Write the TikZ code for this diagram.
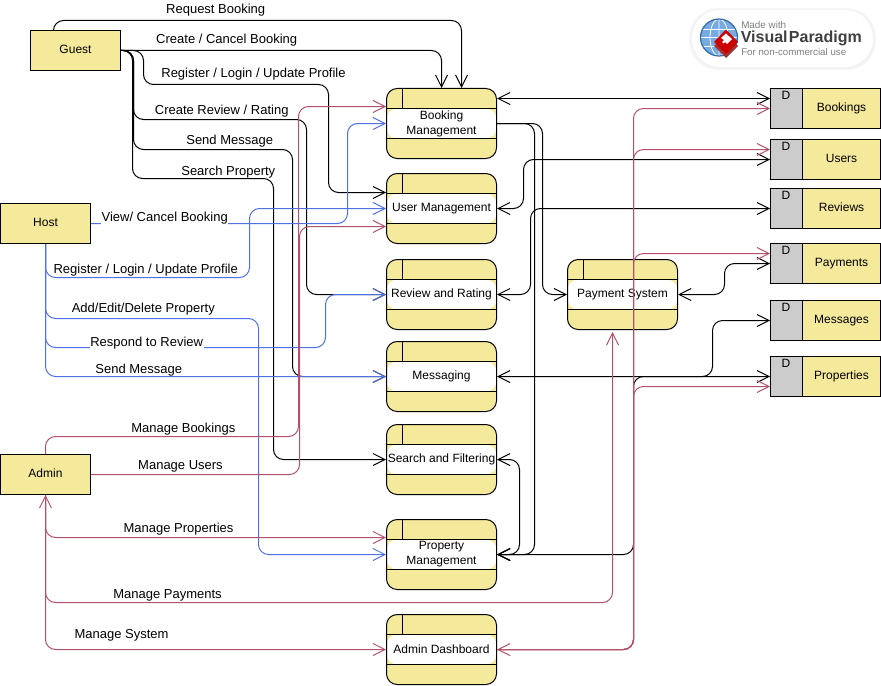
\documentclass[tikz,border=0pt]{standalone}
\usepackage{fontspec}
\setmainfont{Liberation Sans}
\usetikzlibrary{arrows.meta,calc}
\definecolor{paleyellow}{HTML}{F5E99B}
\definecolor{storegray}{HTML}{CCCCCC}
\definecolor{hostblue}{HTML}{4F71E6}
\definecolor{adminred}{HTML}{B5506C}
\tikzset{
  base/.style={font=\fontsize{9}{11.25}\selectfont, inner sep=0pt},
  entity/.style={base, draw=black, line width=.75pt, fill=paleyellow, minimum width=67.5pt, minimum height=30pt, text height=7pt, text depth=2pt},
  process/.style={base, align=center, draw=black, line width=.75pt, fill=paleyellow, rounded corners=8pt,
    minimum width=82.5pt, minimum height=52.5pt,
    path picture={
      \fill[white] ([yshift=-15pt]path picture bounding box.north west) rectangle ([yshift=-37.5pt]path picture bounding box.north east);
      \draw[line width=.75pt] ([yshift=-15pt]path picture bounding box.north west) -- ([yshift=-15pt]path picture bounding box.north east);
      \draw[line width=.75pt] ([yshift=-37.5pt]path picture bounding box.north west) -- ([yshift=-37.5pt]path picture bounding box.north east);
      \draw[line width=.75pt] ([xshift=12pt]path picture bounding box.north west) -- ([xshift=12pt,yshift=-15pt]path picture bounding box.north west);
    }},
  store/.style={base, draw=black, line width=.75pt, fill=paleyellow,
    minimum width=82.5pt, minimum height=30pt, text height=7pt, text depth=2pt,
    path picture={
      \fill[storegray] (path picture bounding box.north west) rectangle ([xshift=24pt]path picture bounding box.south west);
      \draw[line width=.75pt] ([xshift=24pt]path picture bounding box.north west) -- ([xshift=24pt]path picture bounding box.south west);
    }},
  dmark/.style={base, anchor=center, xshift=12pt, yshift=-5.5pt},
  lbl/.style={font=\fontsize{9.75}{11.5}\selectfont, inner sep=0pt, text height=7pt, text depth=2pt, yshift=-1.5pt},
  lblgap/.style={font=\fontsize{9.75}{11.5}\selectfont, inner ysep=0pt, inner xsep=.5pt, fill=white, text height=10.5pt, text depth=2.5pt},
  wm/.style={inner sep=0pt, anchor=west},
  tipend/.style={-{Straight Barb[length=9pt,width=9pt,line width=.75pt]}},
  tipboth/.style={{Straight Barb[length=9pt,width=9pt,line width=.75pt]}-{Straight Barb[length=9pt,width=9pt,line width=.75pt]}},
  flowk/.style={draw=black, line width=.75pt, rounded corners=7.5pt},
  flowb/.style={draw=hostblue, line width=.75pt, rounded corners=7.5pt},
  flowr/.style={draw=adminred, line width=.75pt, rounded corners=7.5pt},
}
\begin{document}
\begin{tikzpicture}[x=.75pt,y=-.75pt]
\useasboundingbox (0,0) rectangle (881,685);
\fill[white] (0,0) rectangle (881,685);

% watermark
\fill[black!3, rounded corners=22pt] (689,8) rectangle (876,70);
\fill[black!5, rounded corners=21.5pt] (690.5,9) rectangle (874.5,69);
\fill[white, rounded corners=21pt] (692,10) rectangle (873,67);
\fill[cyan!60!blue!55] (719,37.5) circle[radius=18.5];
\draw[white,line width=.6pt] (700.5,37.5) -- (737.5,37.5) (702.5,29) -- (735.5,29) (702.5,46) -- (735.5,46);
\draw[white,line width=.6pt] (719,19) -- (719,56) (719,37.5) ellipse[x radius=9,y radius=18.5];
\draw[black!30!cyan!60!blue,line width=.9pt] (719,37.5) circle[radius=18.5];
\fill[red!55!black!80] (714,46) -- (726,34) -- (738,46) -- (726,58) -- cycle;
\fill[red!80!black] (714,42) -- (726,29.5) -- (738,42) -- (726,54) -- cycle;
\fill[white] (721,38) -- (726,33.5) -- (732,39) -- (727,44) -- (725,42) -- (723.5,43.5) -- (722,42) -- (724,40) -- cycle;
\node[wm, font=\fontsize{7.4}{9}\selectfont, text=black!50] (wmA) at (741,25) {Made with};
\node[wm, font=\fontsize{12}{14}\bfseries\selectfont, text=black!75] (wmB) at (740.5,38.5) {Visual\hspace{1pt}Paradigm};
\node[wm, font=\fontsize{7.3}{9}\selectfont, text=black!50] (wmC) at (741,52) {For non-commercial use};

% external entities
\node[entity] (guest) at (75.5,50.5) {Guest};
\node[entity] (host) at (45.5,223.5) {Host};
\node[entity] (admin) at (45.5,474.5) {Admin};

% processes
\node[process] (booking) at (441.5,123.5) {Booking\\Management};
\node[process] (user) at (441.5,208.5) {User Management};
\node[process] (review) at (441.5,294.5) {Review and Rating};
\node[process] (messaging) at (441.5,376.5) {Messaging};
\node[process] (search) at (441.5,459.5) {Search and Filtering};
\node[process] (property) at (441.5,554.5) {Property\\Management};
\node[process] (dashboard) at (441.5,649.5) {Admin Dashboard};
\node[process] (payment) at (622.5,294.5) {Payment System};

% data stores
\node[store] (bookings) at (825.5,108.5) {\hspace*{24pt}Bookings};
\node[store] (users) at (825.5,159.5) {\hspace*{24pt}Users};
\node[store] (reviews) at (825.5,208.5) {\hspace*{24pt}Reviews};
\node[store] (payments) at (825.5,263.5) {\hspace*{24pt}Payments};
\node[store] (messages) at (825.5,320.5) {\hspace*{24pt}Messages};
\node[store] (properties) at (825.5,376.5) {\hspace*{24pt}Properties};
\node[dmark] (dA) at (bookings.north west) {D};
\node[dmark] (dB) at (users.north west) {D};
\node[dmark] (dC) at (reviews.north west) {D};
\node[dmark] (dD) at (payments.north west) {D};
\node[dmark] (dE) at (messages.north west) {D};
\node[dmark] (dF) at (properties.north west) {D};

% guest flows
\draw[flowk,tipend] (53.5,0 |- guest.north) -- (53.5,20.5) -- (461.5,20.5) -- (461.5,0 |- booking.north);
\draw[flowk,tipend] (guest.east) -- (441.5,0 |- guest.east) -- (441.5,0 |- booking.north);
\draw[flowk,tipend] (guest.east) -- (143.5,0 |- guest.east) -- (143.5,84.5) -- (328.5,84.5) -- (328.5,192.5) -- (user.west |- 0,192.5);
\draw[flowk,tipend] (guest.east) -- (133.5,0 |- guest.east) -- (133.5,119.5) -- (306.5,119.5) -- (306.5,294.5) -- (review.west);
\draw[flowk,tipend] (guest.east) -- (133.5,0 |- guest.east) -- (133.5,149.5) -- (292.5,149.5) -- (292.5,376.5) -- (messaging.west);
\draw[flowk,tipend] (guest.east) -- (132.5,0 |- guest.east) -- (132.5,178.5) -- (273.5,178.5) -- (273.5,459.5) -- (search.west);

% store and process links
\draw[flowk,tipboth] (booking.east |- 0,98.5) -- (bookings.west |- 0,98.5);
\draw[flowk,tipend] (booking.east) -- (542.5,0 |- booking.east) -- (542.5,0 |- payment.west) -- (payment.west);
\draw[flowk,tipend] (booking.east) -- (534.5,0 |- booking.east) -- (534.5,0 |- property.east) -- (property.east);
\draw[flowk,tipboth] (user.east) -- (523.5,0 |- user.east) -- (523.5,0 |- users.west) -- (users.west);
\draw[flowk,tipboth] (review.east) -- (530.5,0 |- review.east) -- (530.5,0 |- reviews.west) -- (reviews.west);
\draw[flowk,tipboth] (payment.east) -- (724.5,0 |- payment.east) -- (724.5,0 |- payments.west) -- (payments.west);
\draw[flowk,tipboth] (messaging.east) -- (712.5,0 |- messaging.east) -- (712.5,0 |- messages.west) -- (messages.west);
\draw[flowk,tipboth] (search.east) -- (519.5,0 |- search.east) -- (519.5,0 |- property.east) -- (property.east);
\draw[flowk,tipboth] (property.east) -- (633.5,0 |- property.east) -- (633.5,0 |- properties.west) -- (properties.west);

% host flows
\draw[flowb,tipend] (host.east) -- (347.5,0 |- host.east) -- (347.5,123.5) -- (booking.west);
\draw[flowb,tipend] (host.south) -- (45.5,277.5) -- (249.5,277.5) -- (249.5,208.5) -- (user.west);
\draw[flowb,tipend] (host.south) -- (45.5,318.5) -- (258.5,318.5) -- (258.5,554.5) -- (property.west);
\draw[flowb,tipend] (host.south) -- (45.5,347.5) -- (325.5,347.5) -- (325.5,294.5) -- (review.west);
\draw[flowb,tipend] (host.south) -- (45.5,376.5) -- (messaging.west);

% admin flows
\draw[flowr,tipend] (admin.north) -- (45.5,436.5) -- (298.5,436.5) -- (298.5,106.5) -- (booking.west |- 0,106.5);
\draw[flowr,tipend] (admin.east) -- (299.5,0 |- admin.east) -- (299.5,226.5) -- (user.west |- 0,226.5);
\draw[flowr,tipboth] (admin.south) -- (45.5,537.5) -- (property.west |- 0,537.5);
\draw[flowr,tipend] (admin.south) -- (45.5,602.5) -- (612.5,602.5) -- ([yshift=-1.5pt]612.5,0 |- payment.south);
\draw[flowr,tipend] (admin.south) -- (45.5,649.5) -- (dashboard.west);
\draw[flowr,tipboth] (dashboard.east) -- (633.5,0 |- dashboard.east) -- (633.5,108.5) -- (bookings.west);
\draw[flowr,tipend] (dashboard.east) -- (633.5,0 |- dashboard.east) -- (633.5,149.5) -- (users.west |- 0,149.5);
\draw[flowr,tipend] (dashboard.east) -- (633.5,0 |- dashboard.east) -- (633.5,253.5) -- (payments.west |- 0,253.5);
\draw[flowr,tipend] (dashboard.east) -- (633.5,0 |- dashboard.east) -- (633.5,386.5) -- (properties.west |- 0,386.5);

% labels
\node[lbl] (lA) at (215.7,8.3) {Request Booking};
\node[lbl] (lB) at (226.7,38.3) {Create / Cancel Booking};
\node[lbl] (lC) at (253.5,72.3) {Register / Login / Update Profile};
\node[lbl] (lD) at (221.7,109.3) {Create Review / Rating};
\node[lbl] (lE) at (229.7,139.3) {Send Message};
\node[lbl] (lF) at (228.3,169.7) {Search Property};
\node[lblgap] (lG) at (164.7,216.3) {View/ Cancel Booking};
\node[lbl] (lH) at (145.7,268.3) {Register / Login / Update Profile};
\node[lbl] (lI) at (143.3,307.3) {Add/Edit/Delete Property};
\node[lblgap] (lJ) at (146.7,341.3) {Respond to Review};
\node[lbl] (lK) at (138.8,368.3) {Send Message};
\node[lbl] (lL) at (183.3,427.3) {Manage Bookings};
\node[lbl] (lM) at (180.5,464.3) {Manage Users};
\node[lbl] (lN) at (178.5,527.3) {Manage Properties};
\node[lbl] (lO) at (167.5,593.3) {Manage Payments};
\node[lbl] (lP) at (121.5,633.3) {Manage System};
\end{tikzpicture}
\end{document}
